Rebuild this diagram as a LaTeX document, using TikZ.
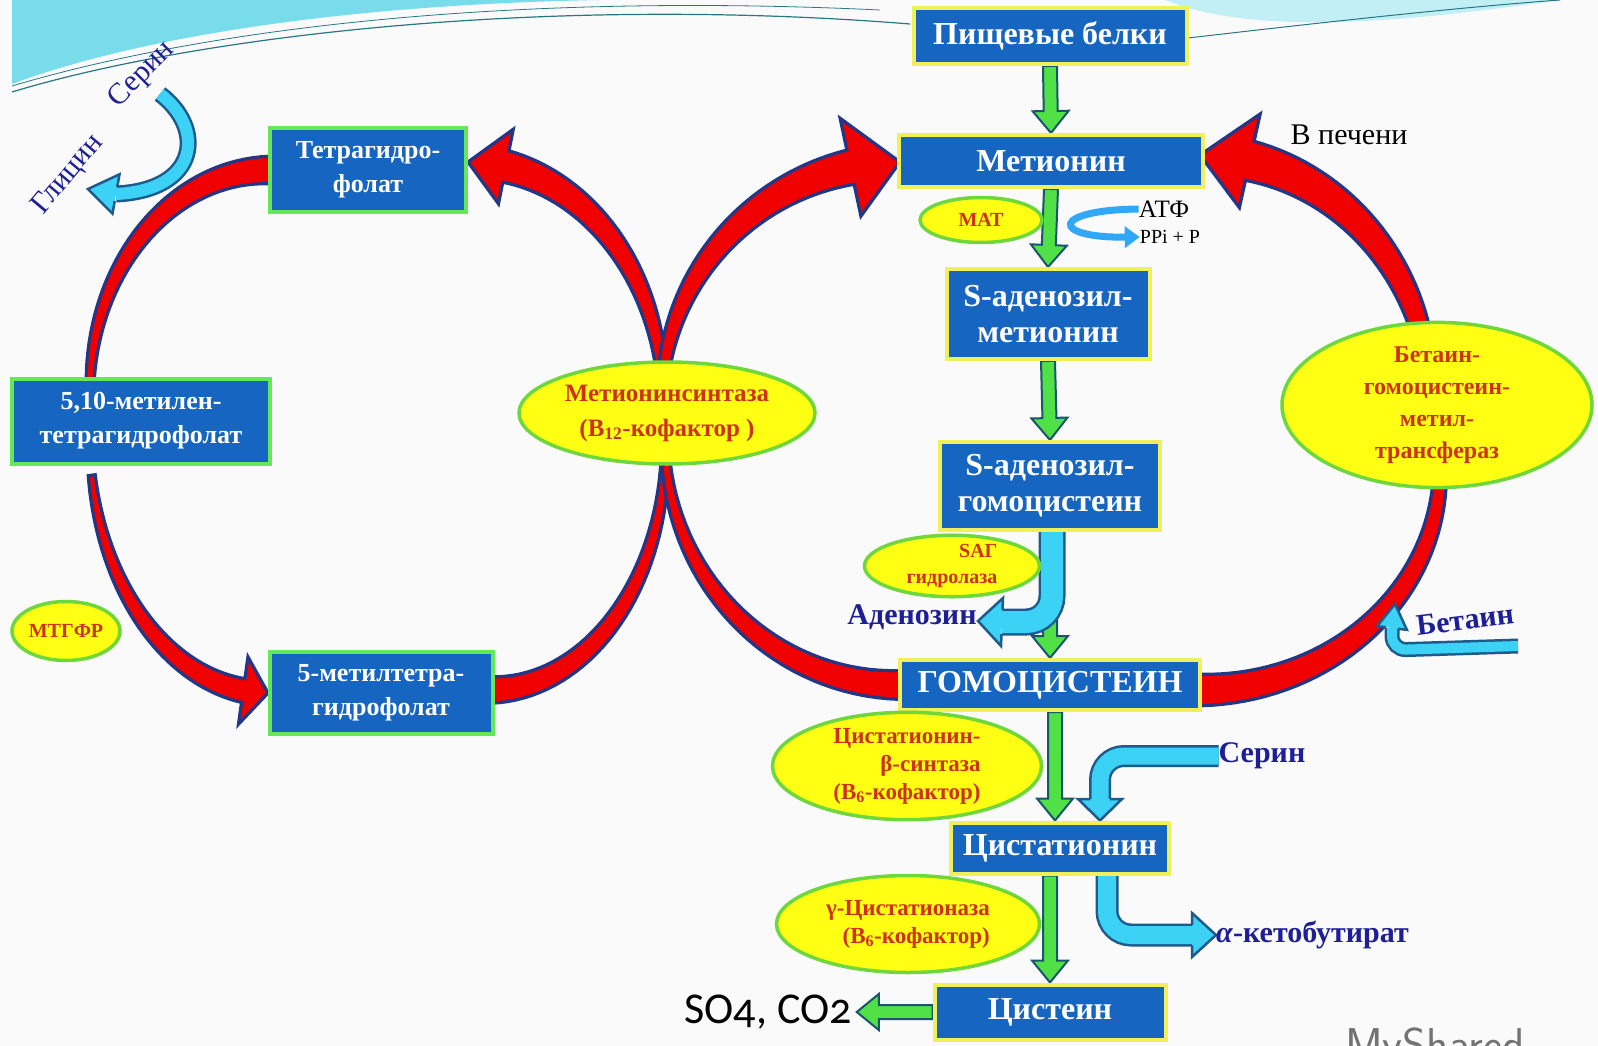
\documentclass[tikz,border=0pt]{standalone}
\usepackage{fontspec}
\setmainfont{Liberation Serif}
\newfontfamily\sofont[Numbers=OldStyle]{Carlito}
\usetikzlibrary{calc,arrows.meta,shapes.geometric}
\pgfdeclarelayer{background}
\pgfsetlayers{background,main}

\definecolor{boxblue}{RGB}{22,101,192}
\definecolor{boxyellow}{RGB}{240,240,90}
\definecolor{boxgreen}{RGB}{100,232,90}
\definecolor{enzfill}{RGB}{255,255,20}
\definecolor{enzline}{RGB}{110,215,60}
\definecolor{enztext}{RGB}{205,50,20}
\definecolor{navy}{RGB}{30,30,150}
\definecolor{bandred}{RGB}{240,0,0}
\definecolor{bandline}{RGB}{35,55,135}
\definecolor{pipecyan}{RGB}{60,210,245}
\definecolor{pipeline}{RGB}{30,90,140}
\definecolor{stepgreen}{RGB}{80,225,70}
\definecolor{stepline}{RGB}{25,85,110}
\definecolor{swoosh}{RGB}{120,220,235}
\definecolor{swooshline}{RGB}{40,120,130}

\tikzset{
  mainbox/.style={rectangle, fill=boxblue, draw=boxyellow, line width=4pt,
    text=white, align=center, inner sep=0pt,
    font=\bfseries\fontsize{32}{36}\selectfont},
  folbox/.style={mainbox, draw=boxgreen, font=\bfseries\fontsize{26}{34}\selectfont},
  enzyme/.style={ellipse, fill=enzfill, draw=enzline, line width=3.5pt,
    text=enztext, align=center, inner sep=0pt},
  metab/.style={text=navy, inner sep=0pt, font=\bfseries\fontsize{30}{34}\selectfont},
  sidenote/.style={text=navy, inner sep=0pt, font=\fontsize{30}{34}\selectfont},
  plainnote/.style={inner sep=0pt, font=\fontsize{30}{34}\selectfont},
  redband/.style={fill=bandred, draw=bandline, line width=3.2pt},
  greenstep/.style={fill=stepgreen, draw=stepline, line width=2pt},
  cyanpipe/.style={draw=pipeline, line width=2.5pt, double=pipecyan},
  pipeedge/.style={draw=pipeline, line width=2.5pt},
  atpline/.style={draw=pipecyan!80!blue, line width=7pt,
    -{Triangle[length=15pt,width=21pt]}},
}

% width of a red band at angle \t
\newcommand\bandwidth[4]{((#3)+((#4)-(#3))*(\t-(#1))/((#2)-(#1)))}

% [shift] rx ry t0 t1 w0 w1
\newcommand\redarc[7][]{%
  \filldraw[redband,#1]
    plot[domain=#4:#5,samples=40,variable=\t]
      ({(#2+0.5*\bandwidth{#4}{#5}{#6}{#7})*cos(\t)},{(#3+0.5*\bandwidth{#4}{#5}{#6}{#7})*sin(\t)})
    -- plot[domain=#5:#4,samples=40,variable=\t]
      ({(#2-0.5*\bandwidth{#4}{#5}{#6}{#7})*cos(\t)},{(#3-0.5*\bandwidth{#4}{#5}{#6}{#7})*sin(\t)})
    -- cycle;}

% [shift] rx ry t0 tneck ttip w0 w1 head
\newcommand\redarrow[9][]{%
  \filldraw[redband,#1]
    plot[domain=#4:#5,samples=40,variable=\t]
      ({(#2+0.5*\bandwidth{#4}{#5}{#7}{#8})*cos(\t)},{(#3+0.5*\bandwidth{#4}{#5}{#7}{#8})*sin(\t)})
    -- ({(#2+#9)*cos(#5)},{(#3+#9)*sin(#5)})
    -- ({#2*cos(#6)},{#3*sin(#6)})
    -- ({(#2-#9)*cos(#5)},{(#3-#9)*sin(#5)})
    -- plot[domain=#5:#4,samples=40,variable=\t]
      ({(#2-0.5*\bandwidth{#4}{#5}{#7}{#8})*cos(\t)},{(#3-0.5*\bandwidth{#4}{#5}{#7}{#8})*sin(\t)})
    -- cycle;}

% green block arrow from #1 to #2
\newcommand\steparrow[2]{%
  \coordinate (neck) at ($(#2)!22pt!(#1)$);
  \filldraw[greenstep] ($(#1)!7pt!90:(#2)$) -- ($(neck)!7pt!-90:(#1)$)
    -- ($(neck)!18pt!-90:(#1)$) -- (#2) -- ($(neck)!18pt!90:(#1)$)
    -- ($(neck)!7pt!90:(#1)$) -- ($(#1)!7pt!-90:(#2)$) -- cycle;}

% head of a cyan pipe: neck, tip, shaft half, head half
\newcommand\pipehead[4]{%
  \fill[pipecyan] ($(#1)!#3!90:(#2)$) -- ($(#1)!#4!90:(#2)$) -- (#2)
    -- ($(#1)!#4!-90:(#2)$) -- ($(#1)!#3!-90:(#2)$) -- cycle;
  \draw[pipeedge] ($(#1)!#3!90:(#2)$) -- ($(#1)!#4!90:(#2)$) -- (#2)
    -- ($(#1)!#4!-90:(#2)$) -- ($(#1)!#3!-90:(#2)$);}

\begin{document}
\begin{tikzpicture}[x=1pt,y=-1pt]

  \useasboundingbox (0,0) rectangle (1598,1046);
  \clip (0,0) rectangle (1598,1046);

  % methionine column
  \begin{scope}[every node/.style={mainbox}]
    \node[minimum width=273pt, minimum height=56pt] (pb)  at (1050,36)   {Пищевые белки};
    \node[minimum width=304pt, minimum height=52pt] (met) at (1051,161)  {Метионин};
    \node[minimum width=203pt, minimum height=90pt] (sam) at (1048,314)  {S-аденозил-\\метионин};
    \node[minimum width=220pt, minimum height=88pt] (sah) at (1050,486)  {S-аденозил-\\гомоцистеин};
    \node[minimum width=300pt, minimum height=50pt] (hcy) at (1050,685)  {ГОМОЦИСТЕИН};
    \node[minimum width=218pt, minimum height=51pt] (cth) at (1060,848)  {Цистатионин};
    \node[minimum width=231pt, minimum height=55pt] (cys) at (1050,1012) {Цистеин};
  \end{scope}

  % folate cycle
  \begin{scope}[every node/.style={folbox}]
    \node[minimum width=196pt, minimum height=83pt] (thf)  at (368,170) {Тетрагидро-\\фолат};
    \node[minimum width=258pt, minimum height=85pt] (mthf) at (141,421) {5,10-метилен-\\тетрагидрофолат};
    \node[minimum width=223pt, minimum height=82pt] (mtf)  at (381,693) {5-метилтетра-\\гидрофолат};
  \end{scope}

  % enzymes
  \begin{scope}[every node/.style={enzyme}]
    \node[minimum width=122pt, minimum height=45pt, font=\bfseries\fontsize{20}{24}\selectfont] (mat) at (981,220) {МАТ};
    \node[minimum width=296pt, minimum height=102pt, font=\bfseries\fontsize{25}{35}\selectfont] (ms) at (667,413)
      {Метионинсинтаза\\(B\textsubscript{12}-кофактор )};
    \node[minimum width=310pt, minimum height=158pt, font=\bfseries\fontsize{24}{32}\selectfont] (bhmt) at (1437,405)
      {Бетаин-\\гомоцистеин-\\метил-\\трансфераз};
    \node[minimum width=175pt, minimum height=61pt, align=right, font=\bfseries\fontsize{20}{26}\selectfont] (sahh) at (952,566)
      {SAГ\\гидролаза};
    \node[minimum width=269pt, minimum height=107pt, align=right, font=\bfseries\fontsize{23}{28}\selectfont] (cbs) at (907,766)
      {Цистатионин-\\β-синтаза\\(B\textsubscript{6}-кофактор)};
    \node[minimum width=263pt, minimum height=97pt, align=right, font=\bfseries\fontsize{23}{28}\selectfont] (cgl) at (908,924)
      {γ-Цистатионаза\\(B\textsubscript{6}-кофактор)};
    \node[minimum width=108pt, minimum height=59pt, font=\bfseries\fontsize{20}{24}\selectfont] (mthfr) at (66,631) {МТГФР};
  \end{scope}

  % side products
  \node[metab] (aden) at (912,617) {Аденозин};
  \node[metab] (ser2) at (1262,756) {Серин};
  \node[metab, rotate=7] (bet) at (1465,620) {Бетаин};
  \node[metab, anchor=west] (akb) at (1216,935) {\textit{α}-кетобутират};
  \node[sidenote, rotate=50] (gly) at (68,175) {Глицин};
  \node[sidenote, rotate=45] (ser1) at (142,75) {Серин};
  \node[plainnote] (liver) at (1349,135) {В печени};
  \node[plainnote, font=\fontsize{25}{28}\selectfont] (atf) at (1164,209) {АТФ};
  \node[plainnote, font=\fontsize{20}{24}\selectfont] (ppi) at (1170,237) {PPi + P};
  \node[inner sep=5pt, font=\sofont\fontsize{44}{48}\selectfont] (so4) at (768,1012) {SO4, CO2};
  \node[anchor=base west, inner sep=0pt, text=black!55, font=\sffamily\fontsize{46}{46}\selectfont] (logo) at (1345,1060) {MyShared};

  \begin{pgfonlayer}{background}
    \fill[white!98!black] (0,0) rectangle (1598,1046);
    % slide decoration
    \fill[swoosh] (12,0) -- (12,84) .. controls (130,40) and (330,5) .. (600,0) -- cycle;
    \fill[swoosh!45] (1165,0) .. controls (1260,38) and (1420,20) .. (1560,0) -- cycle;
    \draw[swooshline, line width=1.2pt] (12,92) .. controls (200,35) and (550,-5) .. (910,24);
    \draw[swooshline, line width=0.8pt] (12,86) .. controls (200,30) and (500,-8) .. (880,10);
    \draw[swooshline, line width=1pt] (1188,38) .. controls (1300,25) and (1450,8) .. (1560,0);

    % red bands of the two cycles
    \redarc[shift={(270,390)}]{180}{220}{272}{178}{28}{7}
    \redarrow[shift={(268,440)}]{178}{253}{172}{98}{90}{7}{24}{34}
    \redarc[shift={(490,450)}]{175}{240}{92}{-5}{27}{6}
    \redarrow[shift={(468,400)}]{195}{238}{8}{-78.8}{-90}{6}{32}{38}
    \redarrow[shift={(900,400)}]{238}{238}{172}{258}{270}{6}{35}{50}
    \redarc[shift={(900,440)}]{235}{245}{85}{185}{30}{6}
    \redarc[shift={(1200,470)}]{240}{220}{92}{-3}{32}{12}
    \redarrow[shift={(1200,400)}]{230}{245}{5}{-77.5}{-90}{12}{40}{48}

    % green steps
    \steparrow{pb.south}{met.north}
    \steparrow{met.south}{sam.north}
    \steparrow{sam.south}{sah.north}
    \steparrow{sah.south}{hcy.north}
    \coordinate (hcyout) at ($(hcy.south)+(5,0)$);
    \coordinate (cthin) at (hcyout |- cth.north);
    \steparrow{hcyout}{cthin}
    \coordinate (cthout) at (cys.north |- cth.south);
    \steparrow{cthout}{cys.north}
    \steparrow{cys.west}{so4.east}

    % cyan side arrows
    \coordinate (sahout) at ($(sah.south)+(2,-6)$);
    \coordinate (adneck) at (1002,622);
    \coordinate (adtip) at (978,621);
    \draw[cyanpipe, double distance=22pt, rounded corners=26pt] (sahout) |- (adneck);
    \pipehead{adneck}{adtip}{12.25pt}{24pt}

    \coordinate (serneck) at (1100,799);
    \coordinate (sertip) at (cthin -| serneck);
    \draw[cyanpipe, double distance=17pt, rounded corners=24pt] (ser2.west) -| (serneck);
    \pipehead{serneck}{sertip}{9.75pt}{22pt}

    \coordinate (akbout) at ($(cth.south)+(47,-6)$);
    \coordinate (akbneck) at (1192,935);
    \draw[cyanpipe, double distance=18pt, rounded corners=24pt] (akbout) |- (akbneck);
    \pipehead{akbneck}{akb.west}{10.25pt}{22pt}

    \coordinate (betstart) at (1518,646);
    \coordinate (betneck) at (1392,628);
    \coordinate (bettip) at (1395,604);
    \draw[cyanpipe, double distance=10pt, rounded corners=14pt] (betstart) -- (1392,650) -- (betneck);
    \pipehead{betneck}{bettip}{6.25pt}{15pt}

    \coordinate (glyneck) at (116,194);
    \coordinate (glytip) at (88,189);
    \draw[cyanpipe, double distance=12pt] (160,94) .. controls (205,128) and (200,190) .. (glyneck);
    \pipehead{glyneck}{glytip}{7.25pt}{20pt}

    \draw[atpline] (atf.west) .. controls (1050,210) and (1050,238) .. (ppi.west);
  \end{pgfonlayer}

\end{tikzpicture}
\end{document}
